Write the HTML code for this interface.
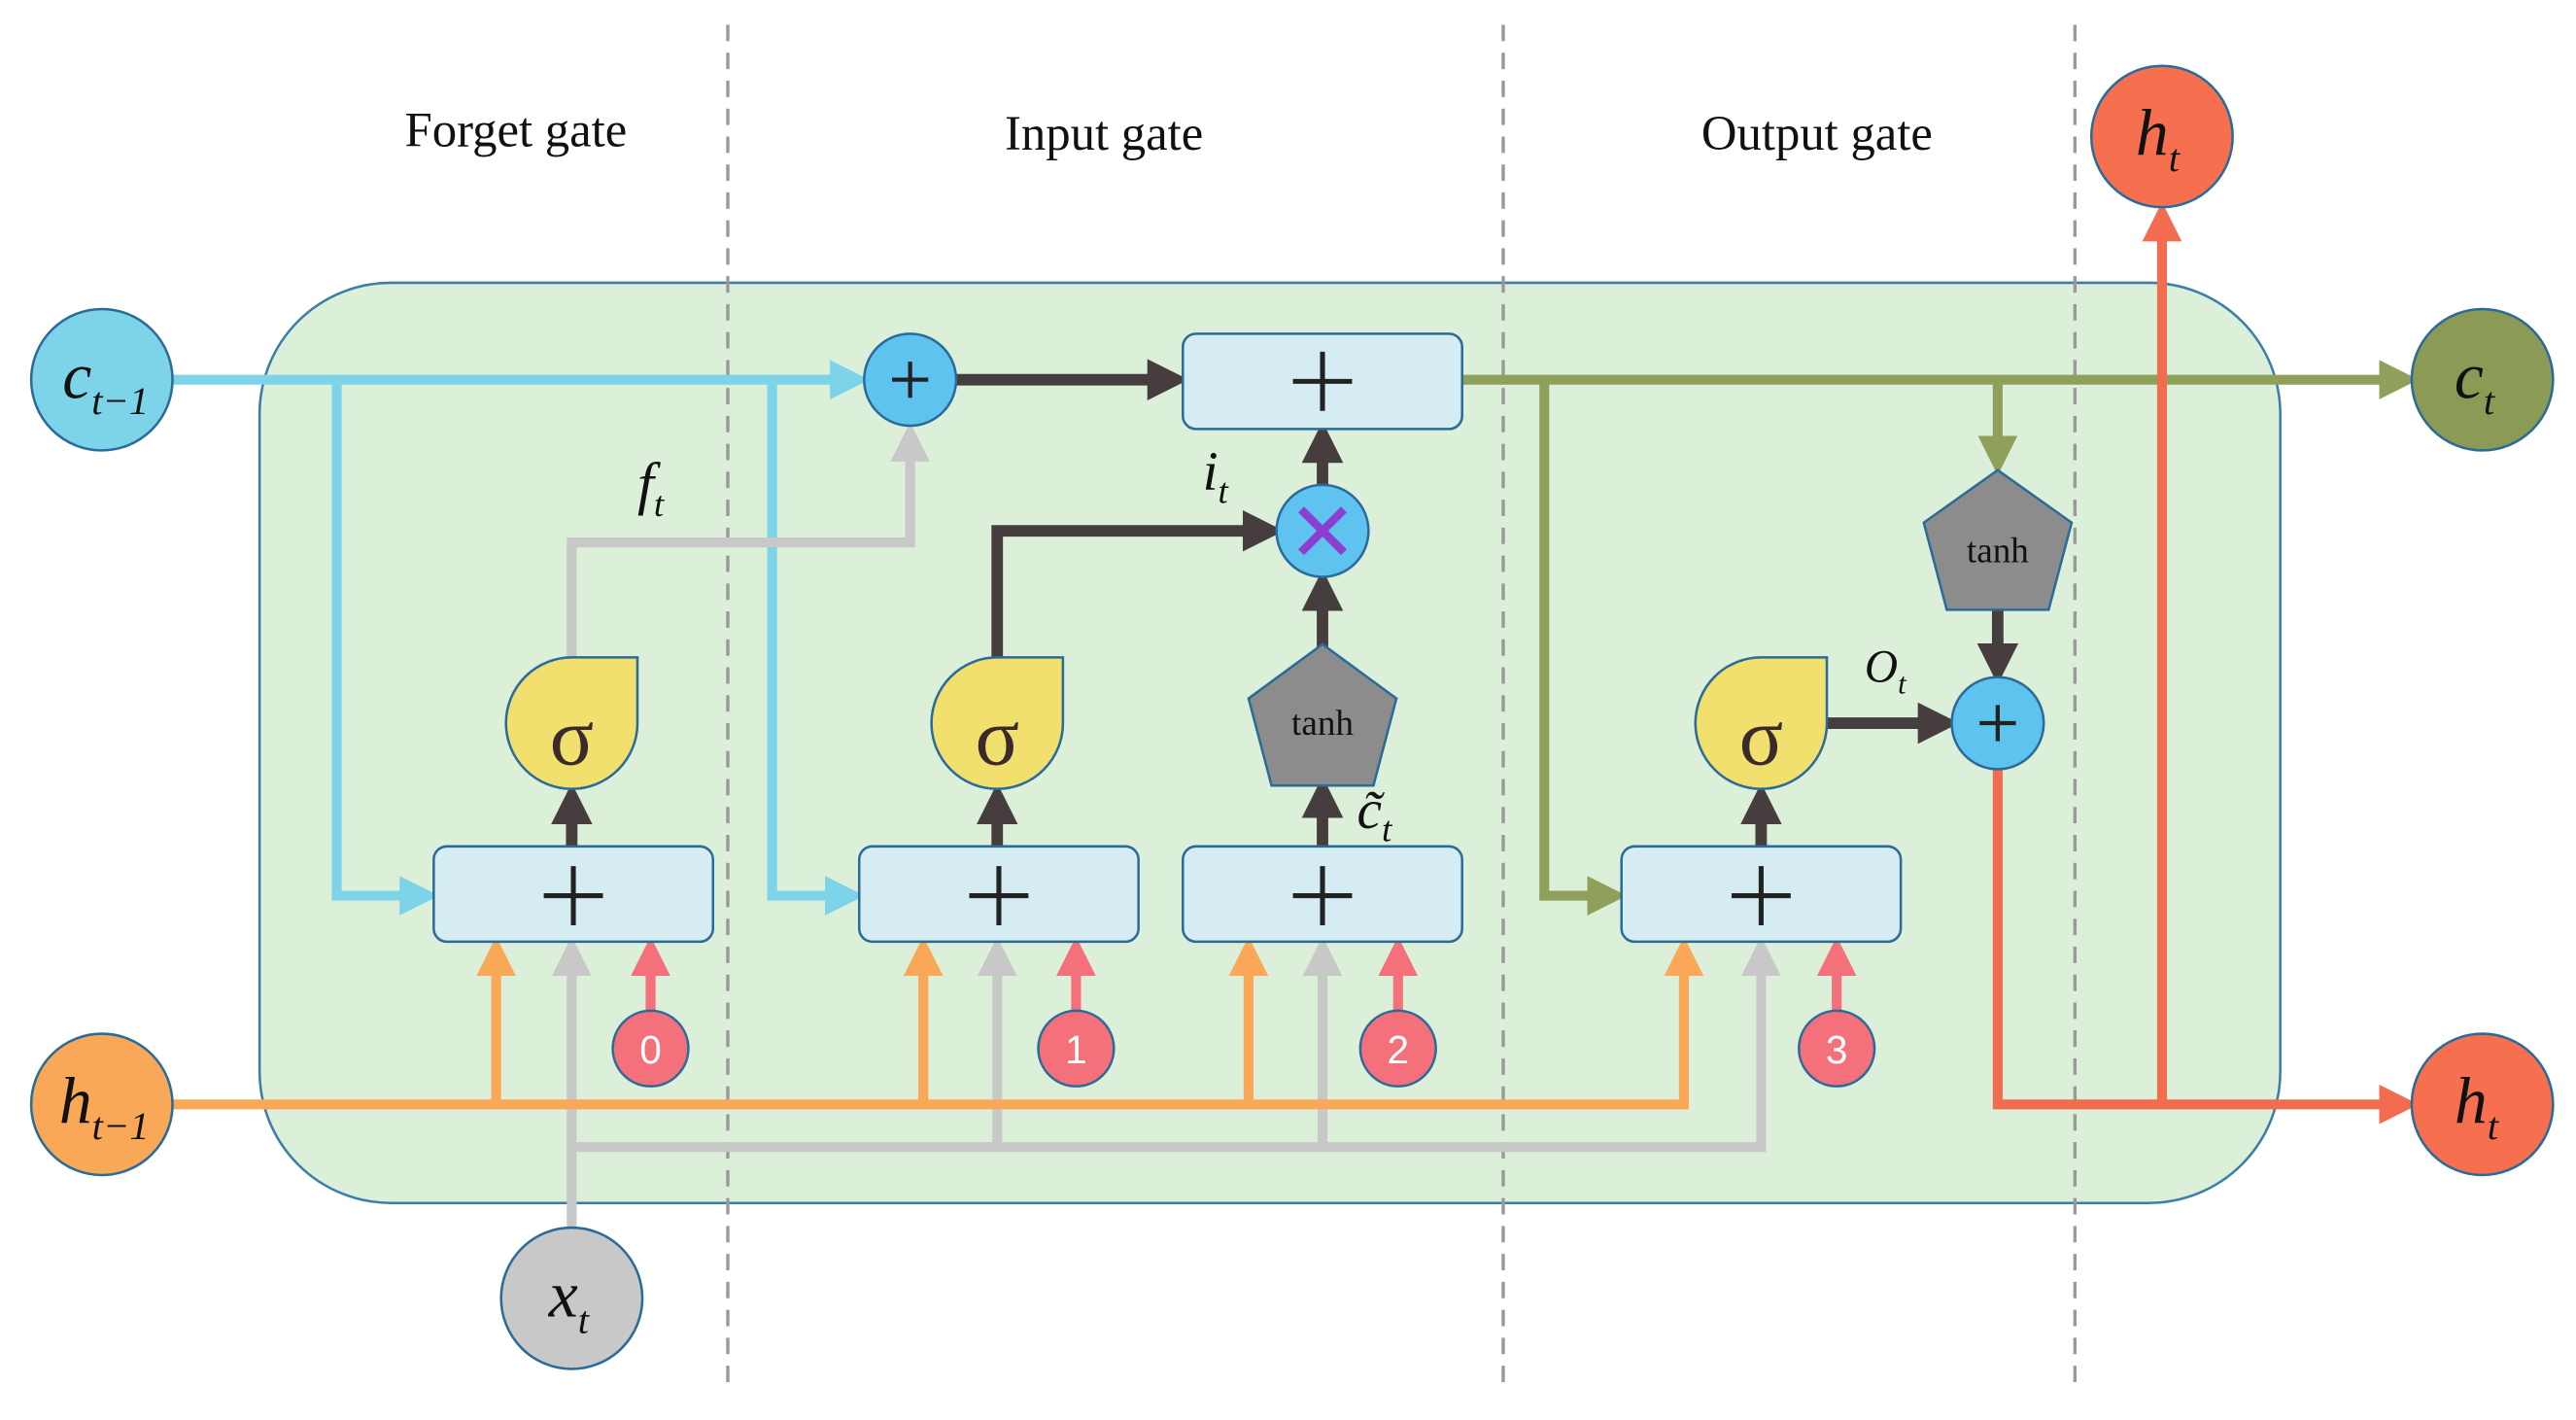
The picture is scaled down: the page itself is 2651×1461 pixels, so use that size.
<!DOCTYPE html>
<html><head><meta charset="utf-8"><style>
html,body{margin:0;padding:0;background:#fff;}
svg{display:block;}
text{font-family:"Liberation Serif",serif;}
text.sans{font-family:"Liberation Sans",sans-serif;}
</style></head><body>
<svg width="2651" height="1461" viewBox="0 0 1568 864" xmlns="http://www.w3.org/2000/svg">
<defs>
<marker id="aC" viewBox="0 0 10 10" refX="7" refY="5" markerWidth="4" markerHeight="4" orient="auto"><path d="M0,0L10,5L0,10z" fill="#7dd3e8"/></marker>
<marker id="aD" viewBox="0 0 10 10" refX="7" refY="5" markerWidth="3.6" markerHeight="3.6" orient="auto"><path d="M0,0L10,5L0,10z" fill="#463e3e"/></marker>
<marker id="aG" viewBox="0 0 10 10" refX="7" refY="5" markerWidth="4" markerHeight="4" orient="auto"><path d="M0,0L10,5L0,10z" fill="#c8c8c8"/></marker>
<marker id="aO" viewBox="0 0 10 10" refX="7" refY="5" markerWidth="4" markerHeight="4" orient="auto"><path d="M0,0L10,5L0,10z" fill="#8fa05a"/></marker>
<marker id="aR" viewBox="0 0 10 10" refX="7" refY="5" markerWidth="4" markerHeight="4" orient="auto"><path d="M0,0L10,5L0,10z" fill="#f26c4f"/></marker>
<marker id="aY" viewBox="0 0 10 10" refX="7" refY="5" markerWidth="4" markerHeight="4" orient="auto"><path d="M0,0L10,5L0,10z" fill="#f9a857"/></marker>
<marker id="aP" viewBox="0 0 10 10" refX="7" refY="5" markerWidth="4" markerHeight="4" orient="auto"><path d="M0,0L10,5L0,10z" fill="#f4707a"/></marker>
</defs>
<rect x="158" y="172" width="1230" height="560" rx="80" fill="#dcefd8" stroke="#3b7fa8" stroke-width="1.5"/>
<g stroke="#999" stroke-width="2" stroke-dasharray="10,7">
<line x1="443" y1="15" x2="443" y2="848"/><line x1="915" y1="15" x2="915" y2="848"/><line x1="1263" y1="15" x2="1263" y2="848"/>
</g>
<g font-size="30" text-anchor="middle" fill="#111">
<text x="314" y="89">Forget gate</text><text x="672" y="91">Input gate</text><text x="1106" y="91">Output gate</text>
</g>
<g fill="none" stroke-width="6">
<path d="M348,748V577" stroke="#c8c8c8" marker-end="url(#aG)"/>
<path d="M348,698H1072V577" stroke="#c8c8c8" marker-end="url(#aG)"/>
<path d="M607,698V577" stroke="#c8c8c8" marker-end="url(#aG)"/>
<path d="M805,698V577" stroke="#c8c8c8" marker-end="url(#aG)"/>
<path d="M105,672H1025V577" stroke="#f9a857" marker-end="url(#aY)"/>
<path d="M302,672V577" stroke="#f9a857" marker-end="url(#aY)"/>
<path d="M562,672V577" stroke="#f9a857" marker-end="url(#aY)"/>
<path d="M760,672V577" stroke="#f9a857" marker-end="url(#aY)"/>
<path d="M396,615V577" stroke="#f4707a" marker-end="url(#aP)"/>
<path d="M655,615V577" stroke="#f4707a" marker-end="url(#aP)"/>
<path d="M851,615V577" stroke="#f4707a" marker-end="url(#aP)"/>
<path d="M1118,615V577" stroke="#f4707a" marker-end="url(#aP)"/>
<path d="M105,231H522" stroke="#7dd3e8" marker-end="url(#aC)"/>
<path d="M205,231V545H260" stroke="#7dd3e8" marker-end="url(#aC)"/>
<path d="M470,231V545H519" stroke="#7dd3e8" marker-end="url(#aC)"/>
<path d="M348,400V330H554V264" stroke="#c8c8c8" marker-end="url(#aG)"/>
<path d="M890,231H1465" stroke="#8fa05a" marker-end="url(#aO)"/>
<path d="M940,231V545H983" stroke="#8fa05a" marker-end="url(#aO)"/>
<path d="M1216,231V282" stroke="#8fa05a" marker-end="url(#aO)"/>
<path d="M1216,468V672H1465" stroke="#f26c4f" marker-end="url(#aR)"/>
<path d="M1316,672V130" stroke="#f26c4f" marker-end="url(#aR)"/>
</g>
<g fill="none" stroke="#463e3e" stroke-width="7">
<path d="M582,231H716" marker-end="url(#aD)"/>
<path d="M607,400V323H774" marker-end="url(#aD)"/>
<path d="M805,405V354" marker-end="url(#aD)"/>
<path d="M805,295V264" marker-end="url(#aD)"/>
<path d="M348,515V484" marker-end="url(#aD)"/>
<path d="M607,515V484" marker-end="url(#aD)"/>
<path d="M805,515V480" marker-end="url(#aD)"/>
<path d="M1072,515V484" marker-end="url(#aD)"/>
<path d="M1216,370V409" marker-end="url(#aD)"/>
<path d="M1112,440H1185" marker-end="url(#aD)"/>
</g>
<g fill="#d4ecf2" stroke="#2b6b9a" stroke-width="1.5">
<rect x="264" y="515" width="170" height="58" rx="8"/>
<rect x="523" y="515" width="170" height="58" rx="8"/>
<rect x="720" y="515" width="170" height="58" rx="8"/>
<rect x="987" y="515" width="170" height="58" rx="8"/>
<rect x="720" y="203" width="170" height="58" rx="8"/>
</g>
<g stroke="#222" stroke-width="3">
<path d="M331,545h36M349,527v36"/><path d="M590,545h36M608,527v36"/><path d="M787,545h36M805,527v36"/><path d="M1054,545h36M1072,527v36"/><path d="M787,232h36M805,214v36"/>
</g>
<g fill="#f2e06e" stroke="#2b6b9a" stroke-width="1.5">
<path d="M388,400V440A40,40 0 1 1 348,400Z"/>
<path d="M647,400V440A40,40 0 1 1 607,400Z"/>
<path d="M1112,400V440A40,40 0 1 1 1072,400Z"/>
</g>
<g font-size="50" text-anchor="middle" fill="#3a2a2a">
<text x="348" y="465">σ</text><text x="607" y="465">σ</text><text x="1072" y="465">σ</text>
</g>
<g fill="#8c8c8c" stroke="#2b6b9a" stroke-width="1.5">
<polygon points="805,392 850,425 836,478 774,478 760,425"/>
<polygon points="1216,286 1261,318 1247,371 1185,371 1171,318"/>
</g>
<g font-size="22" text-anchor="middle" fill="#111"><text x="805" y="447">tanh</text><text x="1216" y="342">tanh</text></g>
<g fill="#5ec3ee" stroke="#2b6b9a" stroke-width="1.5">
<circle cx="554" cy="231" r="28"/><circle cx="805" cy="323" r="28"/><circle cx="1216" cy="440" r="28"/>
</g>
<g stroke="#222" stroke-width="2.5"><path d="M543,231h22M554,220v22M1205,440h22M1216,429v22"/></g>
<path d="M792,310l26,26M818,310l-26,26" stroke="#8a3fd0" stroke-width="5"/>
<g fill="#f4707a" stroke="#2b6b9a" stroke-width="1.5">
<circle cx="396" cy="638" r="23"/><circle cx="655" cy="638" r="23"/><circle cx="851" cy="638" r="23"/><circle cx="1118" cy="638" r="23"/>
</g>
<g font-size="24" fill="#fff" text-anchor="middle">
<text class="sans" x="396" y="647">0</text><text class="sans" x="655" y="647">1</text><text class="sans" x="851" y="647">2</text><text class="sans" x="1118" y="647">3</text>
</g>
<g stroke="#2b6b9a" stroke-width="1.5">
<circle cx="62" cy="231" r="43" fill="#7dd3e8"/>
<circle cx="62" cy="672" r="43" fill="#f9a857"/>
<circle cx="348" cy="790" r="43" fill="#c8c8c8"/>
<circle cx="1316" cy="83" r="43" fill="#f6704f"/>
<circle cx="1511" cy="231" r="43" fill="#8b9a55"/>
<circle cx="1511" cy="672" r="43" fill="#f6704f"/>
</g>
<g font-style="italic" fill="#111">
<text x="38" y="242" font-size="40">c<tspan font-size="24" dy="10">t−1</tspan></text>
<text x="36" y="683" font-size="40">h<tspan font-size="24" dy="10">t−1</tspan></text>
<text x="334" y="801" font-size="40">x<tspan font-size="24" dy="10">t</tspan></text>
<text x="1300" y="94" font-size="40">h<tspan font-size="24" dy="10">t</tspan></text>
<text x="1494" y="242" font-size="40">c<tspan font-size="24" dy="10">t</tspan></text>
<text x="1494" y="683" font-size="40">h<tspan font-size="24" dy="10">t</tspan></text>
<text x="388" y="306" font-size="36">f<tspan font-size="22" dy="8">t</tspan></text>
<text x="732" y="298" font-size="34">i<tspan font-size="22" dy="8">t</tspan></text>
<text x="1135" y="415" font-size="28">O<tspan font-size="18" dy="7">t</tspan></text>
<text x="826" y="504" font-size="34">c̃<tspan font-size="22" dy="8">t</tspan></text>
</g>
</svg>
</body></html>
